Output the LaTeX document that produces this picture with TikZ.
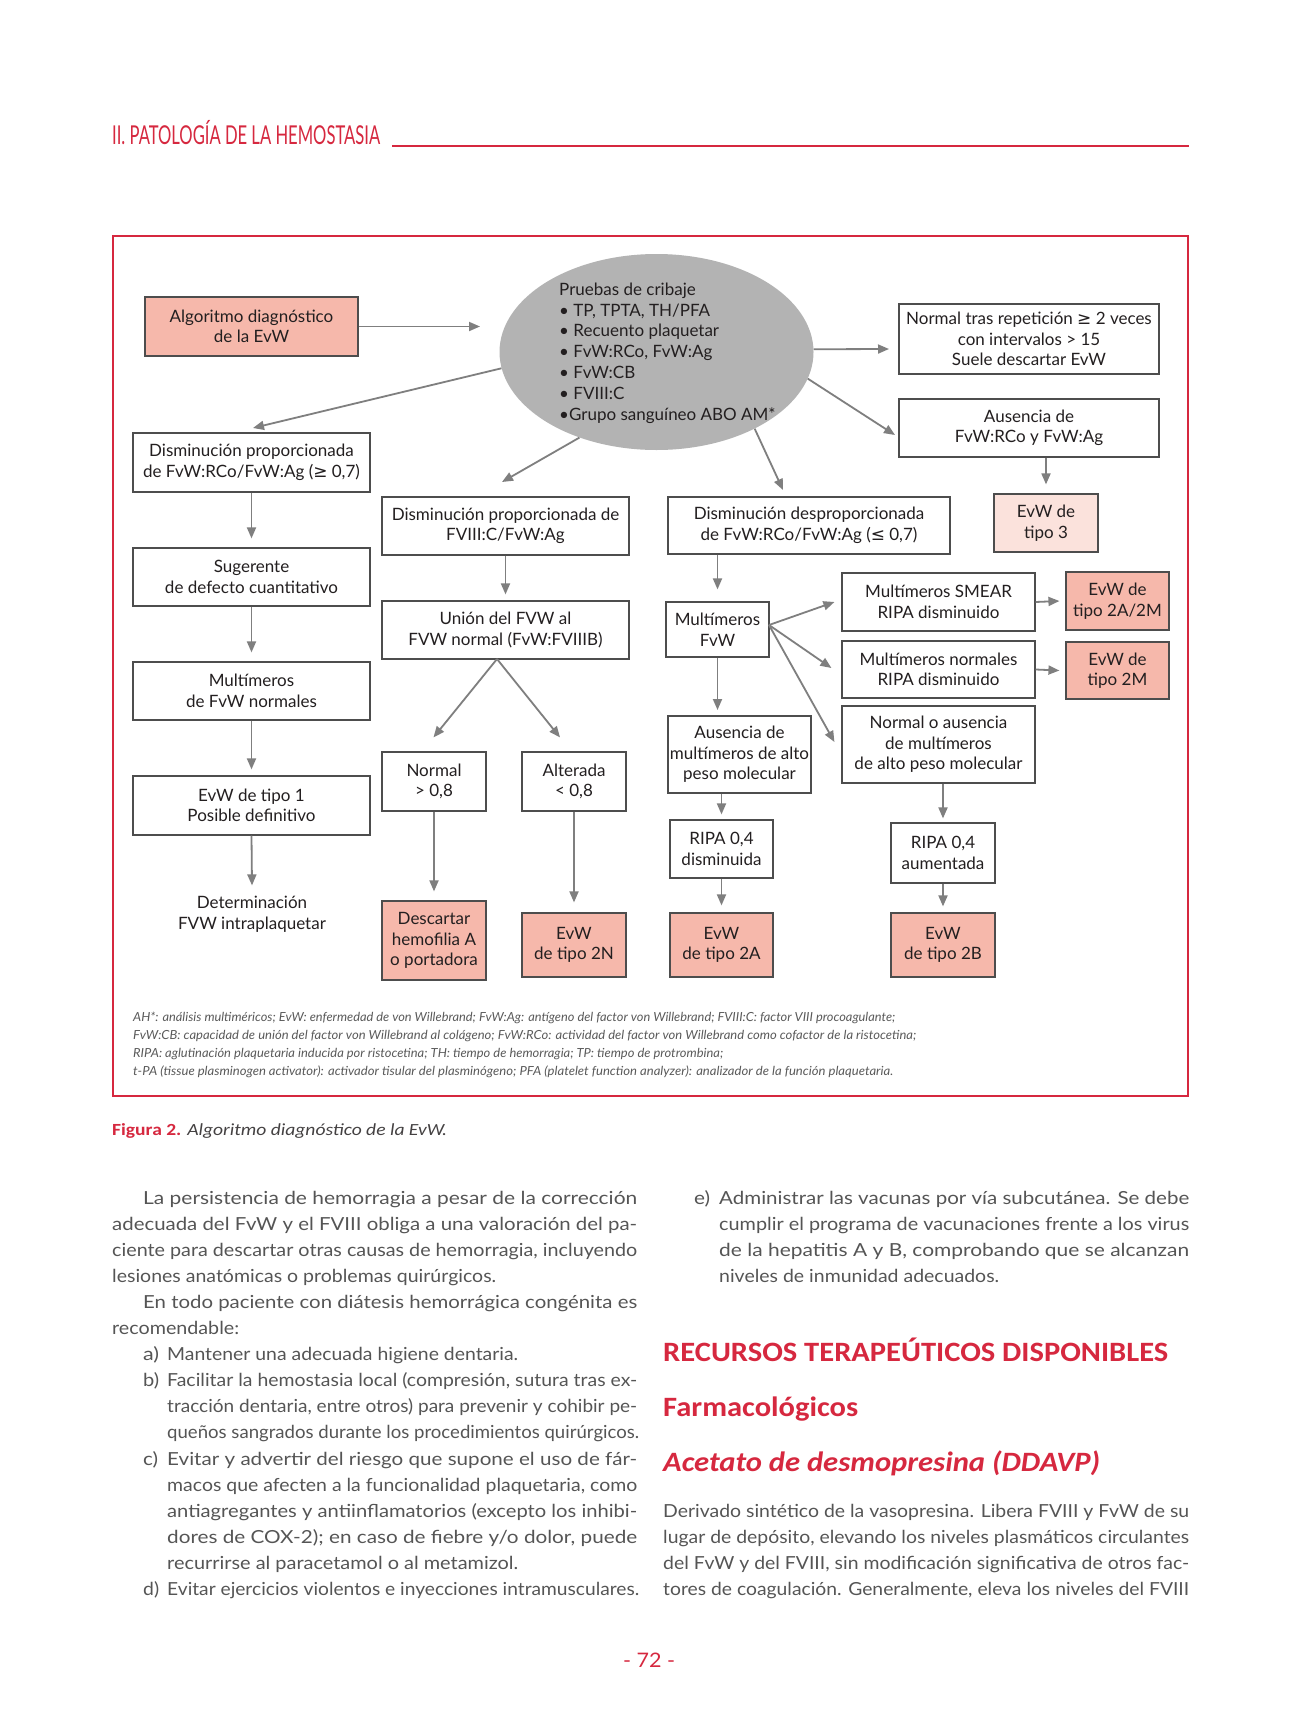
\documentclass[tikz,border=0pt]{standalone}
\usepackage{fontspec}
\usepackage{graphicx}
\setmainfont{Lato}
\newfontfamily\calf{Carlito}
\newfontfamily\symf{DejaVu Sans}
\usetikzlibrary{shapes.geometric,arrows.meta}
\definecolor{rojo}{HTML}{D6283F}
\definecolor{salmon}{HTML}{F6B8AB}
\definecolor{rosa}{HTML}{FBE2DC}
\definecolor{gris}{HTML}{B3B3B3}
\definecolor{arrowc}{HTML}{7F7F7F}
\definecolor{boxc}{HTML}{4D4D4D}
\definecolor{txtc}{HTML}{231F20}
\definecolor{bodyc}{HTML}{555555}
\definecolor{notec}{HTML}{5A5A5A}
\newcommand{\mygeq}{{\symf\char"2265}}
\newcommand{\myleq}{{\symf\char"2264}}
\newcounter{tn}
\newcommand{\tline}[5]{\stepcounter{tn}\node[#1] (tn\arabic{tn}) at (#2,#3) {\resizebox{#4pt}{\height}{#5}};}
\newcommand{\bx}[7]{\node[#6, minimum width={(#4)-(#2)}, minimum height={(#5)-(#3)}] (#1) at ({((#2)+(#4))/2},{((#3)+(#5))/2}) {#7};}
\tikzset{
  box/.style={draw=boxc, line width=1.2pt, align=center, inner sep=0pt, text=txtc, font=\fontsize{17}{20.5}\selectfont},
  salbox/.style={box, fill=salmon},
  rosbox/.style={box, fill=rosa},
  arr/.style={draw=arrowc, line width=1.8pt, -{Triangle[length=11pt,width=9pt]}},
  bodytxt/.style={anchor=base west, inner sep=0pt, text=bodyc, font=\fontsize{18}{22}\selectfont},
  notetxt/.style={anchor=base west, inner sep=0pt, text=notec, font=\fontsize{12.5}{15}\selectfont\itshape},
  headtxt/.style={anchor=base west, inner sep=0pt, text=rojo, font=\fontsize{28}{32}\selectfont\calf\bfseries},
}
\begin{document}
\begin{tikzpicture}[x=1pt,y=-1pt]
\fill[white] (0,0) rectangle (1300,1734);
\useasboundingbox (0,0) rectangle (1300,1734);
% page header
\tline{anchor=base west, inner sep=0pt, text=rojo, font=\fontsize{26}{26}\selectfont}{112}{145}{268}{II. PATOLOGÍA DE LA HEMOSTASIA}
\draw[rojo, line width=1.2pt] (392,146) -- (1189,146);
% frame
\draw[rojo, line width=2pt] (113,236) rectangle (1188,1096);
% screening ellipse
\node[ellipse, fill=gris, minimum width=314, minimum height=196, inner sep=0pt] (ell) at (656.5,352) {};
\node[anchor=west, align=left, inner sep=0pt, text=txtc, font=\fontsize{17}{20.8}\selectfont] (elltxt) at (559,353)
  {Pruebas de cribaje\\• TP, TPTA, TH/PFA\\• Recuento plaquetar\\• FvW:RCo, FvW:Ag\\• FvW:CB\\• FVIII:C\\•Grupo sanguíneo ABO AM*};
% boxes
\bx{alg}{145}{297}{358}{356}{salbox}{Algoritmo diagnóstico\\de la EvW}
\bx{nt}{899}{304}{1159}{374}{box}{Normal tras repetición \mygeq{} 2 veces\\con intervalos > 15\\Suele descartar EvW}
\bx{ausf}{899}{399}{1159}{457}{box}{Ausencia de\\FvW:RCo y FvW:Ag}
\bx{t3}{994}{494}{1098}{552}{rosbox}{EvW de\\tipo 3}
\bx{dp1}{133}{433}{370}{492}{box}{Disminución proporcionada\\de FvW:RCo/FvW:Ag (\mygeq{} 0,7)}
\bx{sug}{133}{548}{370}{606}{box}{Sugerente\\de defecto cuantitativo}
\bx{mult}{133}{662}{370}{720}{box}{Multímeros\\de FvW normales}
\bx{t1}{133}{776}{370}{835}{box}{EvW de tipo 1\\Posible definitivo}
\node[align=center, inner sep=0pt, text=txtc, font=\fontsize{17}{21.5}\selectfont] (det) at (252,914) {Determinación\\FVW intraplaquetar};
\bx{dp2}{382}{497}{629}{555}{box}{Disminución proporcionada de\\FVIII:C/FvW:Ag}
\bx{union}{382}{601}{629}{659}{box}{Unión del FVW al\\FVW normal (FvW:FVIIIB)}
\bx{nor}{382}{752}{486}{811}{box}{Normal\\> 0,8}
\bx{alt}{522}{752}{626}{811}{box}{Alterada\\< 0,8}
\bx{desc}{382}{901}{486}{980}{salbox}{Descartar\\hemofilia A\\o portadora}
\bx{t2n}{522}{913}{626}{977}{salbox}{EvW\\de tipo 2N}
\bx{dd}{668}{497}{950}{554}{box}{Disminución desproporcionada\\de FvW:RCo/FvW:Ag (\myleq{} 0,7)}
\bx{mfvw}{666}{602}{769}{657}{box}{Multímeros\\FvW}
\bx{aus}{668}{716}{811}{793}{box}{Ausencia de\\multímeros de alto\\peso molecular}
\bx{ripad}{670}{820}{773}{878}{box}{RIPA 0,4\\disminuida}
\bx{t2a}{670}{913}{773}{977}{salbox}{EvW\\de tipo 2A}
\bx{smear}{842}{573}{1035}{631}{box}{Multímeros SMEAR\\RIPA disminuido}
\bx{mnor}{842}{641}{1035}{698}{box}{Multímeros normales\\RIPA disminuido}
\bx{noa}{842}{706}{1035}{783}{box}{Normal o ausencia\\de multímeros\\de alto peso molecular}
\bx{ripaa}{891}{823}{995}{883}{box}{RIPA 0,4\\aumentada}
\bx{t2b}{891}{913}{995}{977}{salbox}{EvW\\de tipo 2B}
\bx{t2a2m}{1066}{572}{1169}{630}{salbox}{EvW de\\tipo 2A/2M}
\bx{t2m}{1066}{642}{1169}{699}{salbox}{EvW de\\tipo 2M}
% arrow end points
\coordinate (e1) at (480,326.5);
\coordinate (e2) at (253,428);
\coordinate (e3) at (502,482);
\coordinate (e4) at (783,490);
\coordinate (e5) at (889,349);
\coordinate (e6) at (895,435);
\coordinate (u0) at (497,659);
\coordinate (m0) at (769,625);
\coordinate (m1) at (717.5,710);
% connectors
\draw[arr] (alg.east) -- (e1);
\draw[arr] (ell.186) -- (e2);
\draw[arr] (ell.228) -- (e3);
\draw[arr] (ell.322) -- (e4);
\draw[arr] (ell.1) -- (e5);
\draw[arr] (ell.350) -- (e6);
\draw[arr] (ausf.south -| t3) -- ([yshift=9pt]t3.north);
\draw[arr] (dp1.south) -- ([yshift=9pt]sug.north);
\draw[arr] (sug.south) -- ([yshift=9pt]mult.north);
\draw[arr] (mult.south) -- ([yshift=6pt]t1.north);
\draw[arr] (t1.south) -- ([yshift=10pt]det.north);
\draw[arr] (dp2.south) -- ([yshift=6pt]union.north);
\draw[arr] (u0) -- ([xshift=-0.5pt,yshift=14pt]nor.north);
\draw[arr] (u0) -- ([xshift=-14pt,yshift=14pt]alt.north);
\draw[arr] (nor.south) -- ([yshift=9pt]desc.north);
\draw[arr] (alt.south) -- ([yshift=10pt]t2n.north);
\draw[arr] (dd.south -| mfvw) -- ([yshift=12pt]mfvw.north);
\draw[arr] (m0) -- ([xshift=-7pt]smear.west);
\draw[arr] (m0) -- ([xshift=-10pt,yshift=1.5pt]mnor.west);
\draw[arr] (m0) -- ([xshift=-7pt,yshift=2.5pt]noa.west);
\draw[arr] (mfvw.south) -- (m1);
\draw[arr] (aus.south -| ripad) -- ([yshift=5pt]ripad.north);
\draw[arr] (ripad.south) -- ([yshift=7pt]t2a.north);
\draw[arr] (noa.south -| ripaa) -- ([yshift=4pt]ripaa.north);
\draw[arr] (ripaa.south) -- ([yshift=6pt]t2b.north);
\draw[arr] (smear.east) -- ([xshift=-6pt]t2a2m.west);
\draw[arr] (mnor.east) -- ([xshift=-6pt]t2m.west);
% footnote
\tline{notetxt}{133}{1021}{762}{AH*: análisis multiméricos; EvW: enfermedad de von Willebrand; FvW:Ag: antígeno del factor von Willebrand; FVIII:C: factor VIII procoagulante;}
\tline{notetxt}{133}{1039}{783}{FvW:CB: capacidad de unión del factor von Willebrand al colágeno; FvW:RCo: actividad del factor von Willebrand como cofactor de la ristocetina;}
\tline{notetxt}{133}{1057}{590}{RIPA: aglutinación plaquetaria inducida por ristocetina; TH: tiempo de hemorragia; TP: tiempo de protrombina;}
\tline{notetxt}{133}{1075}{760}{t-PA (tissue plasminogen activator): activador tisular del plasminógeno; PFA (platelet function analyzer): analizador de la función plaquetaria.}
% caption
\tline{anchor=base west, inner sep=0pt, text=txtc!85, font=\fontsize{17}{20}\selectfont\calf}{112}{1135}{335}{{\color{rojo}\bfseries Figura 2.} \itshape Algoritmo diagnóstico de la EvW.}
% left column
\tline{bodytxt}{143}{1204}{494}{La persistencia de hemorragia a pesar de la corrección}
\tline{bodytxt}{112}{1230.1}{525}{adecuada del FvW y el FVIII obliga a una valoración del pa-}
\tline{bodytxt}{112}{1256.2}{525}{ciente para descartar otras causas de hemorragia, incluyendo}
\tline{bodytxt}{112}{1282.3}{384}{lesiones anatómicas o problemas quirúrgicos.}
\tline{bodytxt}{143}{1308.4}{494}{En todo paciente con diátesis hemorrágica congénita es}
\tline{bodytxt}{112}{1334.5}{127}{recomendable:}
\tline{bodytxt}{143}{1360.6}{16}{a)}
\tline{bodytxt}{167}{1360.6}{351}{Mantener una adecuada higiene dentaria.}
\tline{bodytxt}{143}{1386.7}{16}{b)}
\tline{bodytxt}{167}{1386.7}{470}{Facilitar la hemostasia local (compresión, sutura tras ex-}
\tline{bodytxt}{167}{1412.8}{470}{tracción dentaria, entre otros) para prevenir y cohibir pe-}
\tline{bodytxt}{167}{1438.9}{472}{queños sangrados durante los procedimientos quirúrgicos.}
\tline{bodytxt}{143}{1465}{15}{c)}
\tline{bodytxt}{167}{1465}{470}{Evitar y advertir del riesgo que supone el uso de fár-}
\tline{bodytxt}{167}{1491.1}{470}{macos que afecten a la funcionalidad plaquetaria, como}
\tline{bodytxt}{167}{1517.2}{470}{antiagregantes y antiinflamatorios (excepto los inhibi-}
\tline{bodytxt}{167}{1543.3}{470}{dores de COX-2); en caso de fiebre y/o dolor, puede}
\tline{bodytxt}{167}{1569.4}{351}{recurrirse al paracetamol o al metamizol.}
\tline{bodytxt}{143}{1595.5}{16}{d)}
\tline{bodytxt}{167}{1595.5}{472}{Evitar ejercicios violentos e inyecciones intramusculares.}
% right column
\tline{bodytxt}{694}{1204}{16}{e)}
\tline{bodytxt}{719}{1204}{470}{Administrar las vacunas por vía subcutánea. Se debe}
\tline{bodytxt}{719}{1230.1}{470}{cumplir el programa de vacunaciones frente a los virus}
\tline{bodytxt}{719}{1256.2}{470}{de la hepatitis A y B, comprobando que se alcanzan}
\tline{bodytxt}{719}{1282.3}{280}{niveles de inmunidad adecuados.}
\tline{headtxt}{663}{1361}{505}{RECURSOS TERAPEÚTICOS DISPONIBLES}
\tline{headtxt}{663}{1416}{195}{Farmacológicos}
\tline{headtxt}{663}{1471}{437}{\itshape Acetato de desmopresina (DDAVP)}
\tline{bodytxt}{663}{1517.2}{526}{Derivado sintético de la vasopresina. Libera FVIII y FvW de su}
\tline{bodytxt}{663}{1543.3}{526}{lugar de depósito, elevando los niveles plasmáticos circulantes}
\tline{bodytxt}{663}{1569.4}{526}{del FvW y del FVIII, sin modificación significativa de otros fac-}
\tline{bodytxt}{663}{1595.5}{526}{tores de coagulación. Generalmente, eleva los niveles del FVIII}
% page number
\tline{anchor=base, inner sep=0pt, text=rojo, font=\fontsize{20}{20}\selectfont}{649}{1667}{52}{- 72 -}
\end{tikzpicture}
\end{document}
